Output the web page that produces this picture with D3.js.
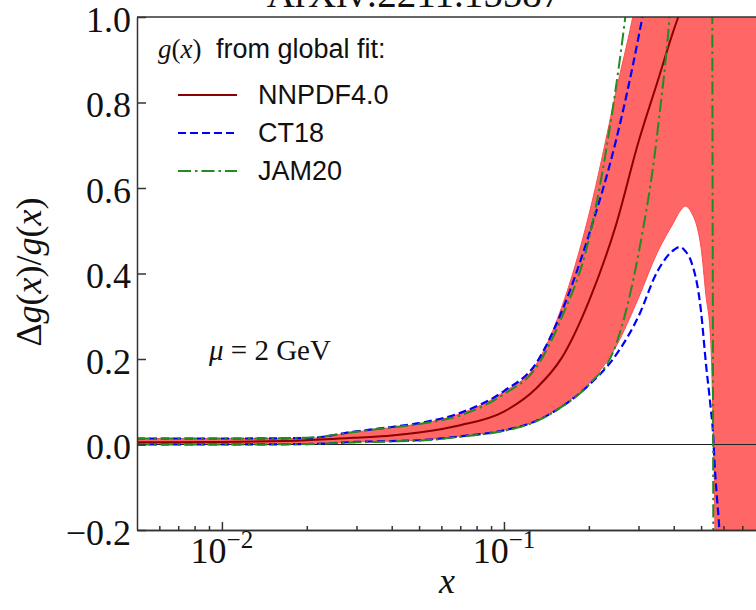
<!DOCTYPE html>
<html>
<head>
<meta charset="utf-8">
<script src="https://cdn.jsdelivr.net/npm/d3@7"></script>
<style>
  body { margin: 0; background: #fff; }
  svg { display: block; }
</style>
</head>
<body>
<div id="chart"></div>
<script>

var xGrid = [0.005, 0.01, 0.02, 0.03, 0.04, 0.05, 0.07, 0.1, 0.13, 0.16, 0.2, 0.25, 0.3, 0.35, 0.4, 0.42, 0.44, 0.46, 0.5, 0.52, 0.54, 0.55, 0.56, 0.57, 0.58, 0.6, 0.7, 0.8, 1.0];

// NNPDF4.0 band and central value (values beyond the frame are clipped)
var nnpdfUpper = [0.014, 0.014, 0.014, 0.0295, 0.0395, 0.048, 0.072, 0.123, 0.187, 0.32, 0.537, 0.827, 1.075, 1.4, 1.8, 2, 2.2, 2.5, 3, 3, 3, 3, 3, 3, 3, 3, 3, 3, 3];
var nnpdfLower = [0.0, 0.0, 0.001, 0.006, 0.008, 0.010, 0.020, 0.034, 0.056, 0.090, 0.142, 0.230, 0.343, 0.45, 0.52, 0.545, 0.558, 0.545, 0.46, 0.35, 0.25, 0.08, -0.22, -2, -2, -2, -2, -2, -2];
var nnpdfCentral = [0.005, 0.006, 0.010, 0.016, 0.021, 0.028, 0.045, 0.077, 0.131, 0.202, 0.335, 0.515, 0.708, 0.848, 0.970, 1.01, 1.05, 1.09, 1.17];

var ct18Upper = [0.014, 0.014, 0.015, 0.031, 0.041, 0.050, 0.074, 0.125, 0.19, 0.31, 0.49, 0.713, 0.953, 1.2, 1.5, 1.6, 1.8, 2, 3, 3, 3, 3, 3, 3, 3, 3, 3, 3, 3];
var ct18Lower = [0.0, 0.0, 0.001, 0.006, 0.008, 0.010, 0.019, 0.033, 0.055, 0.088, 0.139, 0.21, 0.30, 0.405, 0.455, 0.462, 0.452, 0.43, 0.31, 0.19, 0.09, 0.035, -0.06, -0.13, -0.2, -0.6, -1, -1, -1];

var jam20Upper = [0.014, 0.014, 0.016, 0.030, 0.040, 0.048, 0.068, 0.118, 0.18, 0.296, 0.48, 0.84, 1.25, 1.6, 2, 2.2, 2.5, 3, 3, 3, 3, 3, 3, 3, 3, 3, 3, 3, 3];
var jam20Lower = [0.0, 0.0, 0.001, 0.005, 0.007, 0.009, 0.018, 0.032, 0.054, 0.088, 0.14, 0.235, 0.447, 0.73, 1.14, 1.4, 1.8, 2.2, 3, 3, 3, 0.4, -1.5, -1.5, -1.5, -1.5, -1.5, -1.5, -1.5];

var yTicks = [-0.2, 0, 0.2, 0.4, 0.6, 0.8, 1.0];
var yTickLabels = ["\u22120.2", "0.0", "0.2", "0.4", "0.6", "0.8", "1.0"];
var xMajor = [0.01, 0.1];
var xMajorExp = ["\u22122", "\u22121"];
var xMinor = [0.006, 0.007, 0.008, 0.009, 0.02, 0.03, 0.04, 0.05, 0.06, 0.07, 0.08, 0.09, 0.2, 0.3, 0.4, 0.5, 0.6, 0.7, 0.8, 0.9];

var legendNames = ["NNPDF4.0", "CT18", "JAM20"];
var legendColors = ["#8b0000", "#0000ff", "#228b22"];
var legendDash = [null, "8,4", "13,4,2.5,4"];

function renderChart(){

  var left = 137, top = 17, bottom = 530, right = 786;
  var serif = "'Liberation Serif', 'Times New Roman', serif";
  var sans = "'Liberation Sans', Arial, sans-serif";

  var x = d3.scaleLog().domain([0.005, 1]).range([left, right]);
  var y = d3.scaleLinear().domain([-0.2, 1.0]).range([bottom, top]);

  var svg = d3.select("#chart")
              .append("svg")
              .attr("width", 756)
              .attr("height", 610);

  svg.append("defs").append("clipPath")
     .attr("id", "plotClip")
     .append("rect")
     .attr("x", left).attr("y", top)
     .attr("width", right - left).attr("height", bottom - top);

  var plot = svg.append("g").attr("clip-path", "url(#plotClip)");

  var pts = function( values ){
    return values.map(function(v, i){ return { x: xGrid[i], y: v }; });
  };

  var line = d3.line()
               .x(function(d){ return x(d.x); })
               .y(function(d){ return y(d.y); })
               .curve(d3.curveMonotoneX);

  var area = d3.area()
               .x(function(d){ return x(d.x); })
               .y0(function(d){ return y(d.lo); })
               .y1(function(d){ return y(d.hi); })
               .curve(d3.curveMonotoneX);

  var band = xGrid.map(function(xv, i){ return { x: xv, lo: nnpdfLower[i], hi: nnpdfUpper[i] }; });

  plot.append("path").datum(band)
      .attr("d", area)
      .attr("fill", "#ff6666");

  [nnpdfUpper, nnpdfLower].forEach(function(vals){
    plot.append("path").datum(pts(vals))
        .attr("d", line)
        .attr("fill", "none")
        .attr("stroke", "#ff4d4d")
        .attr("stroke-width", 1);
  });

  plot.append("line")
      .attr("x1", left).attr("x2", right)
      .attr("y1", y(0)).attr("y2", y(0))
      .attr("stroke", "#222")
      .attr("stroke-width", 1.1);

  plot.append("path").datum(pts(nnpdfCentral))
      .attr("d", line)
      .attr("fill", "none")
      .attr("stroke", legendColors[0])
      .attr("stroke-width", 2);

  [ct18Upper, ct18Lower].forEach(function(vals){
    plot.append("path").datum(pts(vals))
        .attr("d", line)
        .attr("fill", "none")
        .attr("stroke", legendColors[1])
        .attr("stroke-width", 2.2)
        .attr("stroke-dasharray", legendDash[1]);
  });

  [jam20Upper, jam20Lower].forEach(function(vals){
    plot.append("path").datum(pts(vals))
        .attr("d", line)
        .attr("fill", "none")
        .attr("stroke", legendColors[2])
        .attr("stroke-width", 2)
        .attr("stroke-dasharray", legendDash[2]);
  });

  // axes, ticks pointing inward
  var yAxis = svg.append("g")
     .attr("transform", "translate(" + left + ",0)")
     .call(d3.axisLeft(y)
             .tickValues(yTicks)
             .tickSizeInner(-9)
             .tickSizeOuter(0)
             .tickPadding(6)
             .tickFormat(function(d, i){ return yTickLabels[i]; }));

  yAxis.selectAll("text")
       .attr("dy", "0.4em")
       .attr("fill", "#111")
       .style("font-family", serif)
       .style("font-size", "36px");

  var xAxisMinor = svg.append("g")
     .attr("transform", "translate(0," + bottom + ")")
     .call(d3.axisBottom(x).tickValues(xMinor).tickSizeInner(-4).tickSizeOuter(0).tickFormat(""));

  var xAxisMajor = svg.append("g")
     .attr("transform", "translate(0," + bottom + ")")
     .call(d3.axisBottom(x).tickValues(xMajor).tickSizeInner(-8).tickSizeOuter(0).tickFormat(""));

  svg.selectAll(".domain, .tick line")
     .attr("stroke", "#333")
     .attr("stroke-width", 1.5);

  svg.append("line")
     .attr("x1", left).attr("x2", right)
     .attr("y1", top).attr("y2", top)
     .attr("stroke", "#333").attr("stroke-width", 1.5);

  svg.append("line")
     .attr("x1", right).attr("x2", right)
     .attr("y1", top).attr("y2", bottom)
     .attr("stroke", "#333").attr("stroke-width", 1.5);

  var xl = svg.selectAll("text.xlab")
     .data(xMajor)
     .enter().append("text")
     .attr("class", "xlab")
     .attr("x", function(d){ return x(d); })
     .attr("y", 563)
     .attr("text-anchor", "middle")
     .attr("fill", "#111")
     .style("font-family", serif)
     .style("font-size", "36px");

  xl.append("tspan").text("10");
  xl.append("tspan")
    .attr("dy", -15)
    .style("font-size", "25px")
    .text(function(d, i){ return xMajorExp[i]; });

  // axis titles
  svg.append("text")
     .attr("x", 447).attr("y", 593)
     .attr("text-anchor", "middle")
     .attr("fill", "#111")
     .style("font-family", serif)
     .style("font-size", "36px")
     .style("font-style", "italic")
     .text("x");

  var yt = svg.append("text")
     .attr("transform", "translate(41,272) rotate(-90)")
     .attr("text-anchor", "middle")
     .attr("fill", "#111")
     .style("font-family", serif)
     .style("font-size", "36px");
  yt.append("tspan").text("\u0394");
  yt.append("tspan").style("font-style", "italic").text("g");
  yt.append("tspan").text("(");
  yt.append("tspan").style("font-style", "italic").text("x");
  yt.append("tspan").text(")/");
  yt.append("tspan").style("font-style", "italic").text("g");
  yt.append("tspan").text("(");
  yt.append("tspan").style("font-style", "italic").text("x");
  yt.append("tspan").text(")");

  svg.append("text")
     .attr("x", 414).attr("y", 7)
     .attr("text-anchor", "middle")
     .attr("fill", "#111")
     .style("font-family", serif)
     .style("font-size", "39px")
     .text("ArXiv:2211.15587");

  // legend
  var lt = svg.append("text")
     .attr("x", 158).attr("y", 58)
     .attr("fill", "#111")
     .style("font-family", serif)
     .style("font-size", "27px");
  lt.append("tspan").style("font-style", "italic").text("g");
  lt.append("tspan").text("(");
  lt.append("tspan").style("font-style", "italic").text("x");
  lt.append("tspan").text(")");

  svg.append("text")
     .attr("x", 216).attr("y", 58)
     .attr("fill", "#111")
     .style("font-family", sans)
     .style("font-size", "27px")
     .text("from global fit:");

  var legendY = d3.scaleLinear().domain([0, 1]).range([95, 133]);

  var item = svg.selectAll("g.legend")
     .data(legendNames)
     .enter().append("g")
     .attr("class", "legend");

  item.append("line")
      .attr("x1", 178).attr("x2", 237)
      .attr("y1", function(d, i){ return legendY(i); })
      .attr("y2", function(d, i){ return legendY(i); })
      .attr("stroke", function(d, i){ return legendColors[i]; })
      .attr("stroke-width", 2)
      .attr("stroke-dasharray", function(d, i){ return legendDash[i]; });

  item.append("text")
      .attr("x", 258)
      .attr("y", function(d, i){ return legendY(i) + 9; })
      .attr("fill", "#111")
      .style("font-family", sans)
      .style("font-size", "27px")
      .text(function(d){ return d; });

  var mu = svg.append("text")
     .attr("x", 209).attr("y", 360)
     .attr("fill", "#111")
     .style("font-family", serif)
     .style("font-size", "29px")
     .attr("xml:space", "preserve");
  mu.append("tspan").style("font-style", "italic").text("\u03bc");
  mu.append("tspan").text(" = 2 GeV");

}

renderChart();

</script>
</body>
</html>
